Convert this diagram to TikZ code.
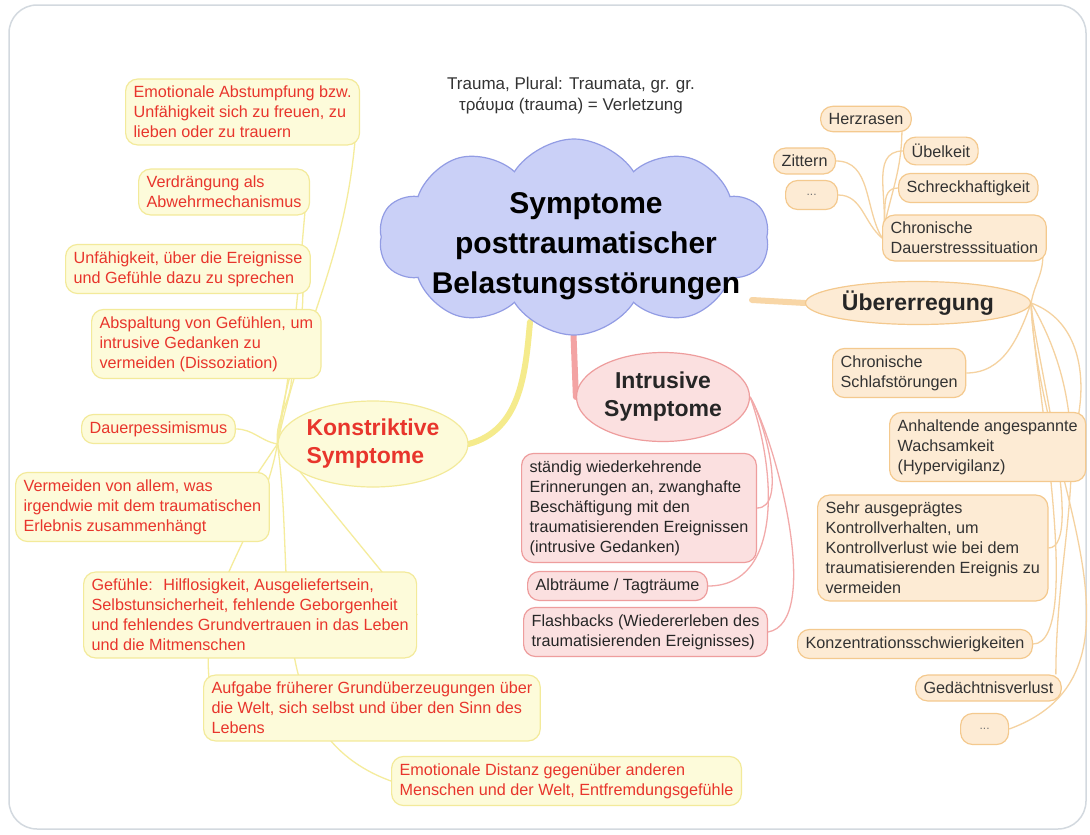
\documentclass[tikz,border=0pt]{standalone}
\usepackage{fontspec}
\setmainfont{Liberation Sans}
\usepackage{tikz}
\usetikzlibrary{shapes,positioning,backgrounds}

\definecolor{frm}{HTML}{D3D9DF}
\definecolor{cloudfill}{HTML}{CAD0F7}
\definecolor{clouddraw}{HTML}{929CE4}
\definecolor{kfill}{HTML}{FDFBDA}
\definecolor{kdraw}{HTML}{F3EA9A}
\definecolor{ktext}{HTML}{E8352C}
\definecolor{kline}{HTML}{F5EC9C}
\definecolor{kthick}{HTML}{F5EB8C}
\definecolor{ifill}{HTML}{FBE0E0}
\definecolor{idraw}{HTML}{EE9D9D}
\definecolor{iline}{HTML}{F2AAAA}
\definecolor{ithick}{HTML}{F3A3A3}
\definecolor{ufill}{HTML}{FDEBD4}
\definecolor{udraw}{HTML}{F4C98E}
\definecolor{uline}{HTML}{F5D2A0}
\definecolor{uthick}{HTML}{F8D6A6}

\begin{document}
\begin{tikzpicture}[x=1pt,y=1pt,
  box/.style={draw, rounded corners=12pt, align=left, line width=1.2pt, inner xsep=8pt, inner ysep=7pt, anchor=west, font=\fontsize{16.2}{20}\selectfont},
  kbox/.style={box, draw=kdraw, fill=kfill, text=ktext},
  ibox/.style={box, draw=idraw, fill=ifill, text=black!85},
  ubox/.style={box, draw=udraw, fill=ufill, text=black!80},
  dotbox/.style={ubox, align=center, font=\fontsize{12}{14}\selectfont, text=black!55},
  topic/.style={ellipse, draw, line width=1.2pt, inner sep=0pt, font=\fontsize{23}{28}\selectfont\bfseries},
  kedge/.style={draw=kline, line width=1.3pt},
  iedge/.style={draw=iline, line width=1.3pt},
  uedge/.style={draw=uline, line width=1.3pt},
  mainedge/.style={line width=6pt, line cap=round}]
\useasboundingbox (0,0) rectangle (1090,-835);

\node[cloud, cloud puffs=10, cloud puff arc=115, draw=clouddraw, fill=cloudfill, line width=1.2pt, minimum width=390pt, minimum height=196pt] (cl) at (574,-237) {};
\node[font=\fontsize{30}{40}\selectfont\bfseries, align=center] (cltxt) at (586,-246) {Symptome\\posttraumatischer\\Belastungsstörungen};
\node[font=\fontsize{17}{21}\selectfont, text=black!80, align=center] (title) at (571,-96) {Trauma, Plural: Traumata, gr. gr.\\τράυμα (trauma) = Verletzung};

\node[topic, draw=kdraw, fill=kfill, text=ktext, align=left, minimum width=190pt, minimum height=86pt] (ks) at (373,-444) {Konstriktive\\Symptome};
\node[topic, draw=idraw, fill=ifill, text=black!85, align=center, minimum width=173pt, minimum height=89pt] (is) at (663,-397) {Intrusive\\Symptome};
\node[topic, draw=udraw, fill=ufill, text=black!85, minimum width=225pt, minimum height=43pt] (ue) at (918,-303) {Übererregung};

\node[kbox] (k1) at (125,-112) {Emotionale Abstumpfung bzw.\\Unfähigkeit sich zu freuen, zu\\lieben oder zu trauern};
\node[kbox] (k2) at (138,-192) {Verdrängung als\\Abwehrmechanismus};
\node[kbox] (k3) at (65,-269) {Unfähigkeit, über die Ereignisse\\und Gefühle dazu zu sprechen};
\node[kbox] (k4) at (91,-344) {Abspaltung von Gefühlen, um\\intrusive Gedanken zu\\vermeiden (Dissoziation)};
\node[kbox] (k5) at (81,-429) {Dauerpessimismus};
\node[kbox] (k6) at (15,-507) {Vermeiden von allem, was\\irgendwie mit dem traumatischen\\Erlebnis zusammenhängt};
\node[kbox] (k7) at (83,-615) {Gefühle: \ Hilflosigkeit, Ausgeliefertsein,\\Selbstunsicherheit, fehlende Geborgenheit\\und fehlendes Grundvertrauen in das Leben\\und die Mitmenschen};
\node[kbox] (k8) at (203,-708) {Aufgabe früherer Grundüberzeugungen über\\die Welt, sich selbst und über den Sinn des\\Lebens};
\node[kbox] (k9) at (391,-781) {Emotionale Distanz gegenüber anderen\\Menschen und der Welt, Entfremdungsgefühle};

\node[ibox] (i1) at (521,-508) {ständig wiederkehrende\\Erinnerungen an, zwanghafte\\Beschäftigung mit den\\traumatisierenden Ereignissen\\(intrusive Gedanken)};
\node[ibox] (i2) at (527,-586) {Albträume / Tagträume};
\node[ibox] (i3) at (523,-632) {Flashbacks (Wiedererleben des\\traumatisierenden Ereignisses)};

\node[ubox] (hz) at (820,-119) {Herzrasen};
\node[ubox] (ub) at (903,-151) {Übelkeit};
\node[ubox] (zi) at (773,-161) {Zittern};
\node[dotbox, minimum width=52pt, minimum height=29pt] (d1) at (785,-195) {...};
\node[ubox] (sh) at (898,-188) {Schreckhaftigkeit};
\node[ubox] (cd) at (882,-238) {Chronische\\Dauerstresssituation};
\node[ubox] (u1) at (832,-373) {Chronische\\Schlafstörungen};
\node[ubox] (u2) at (889,-447) {Anhaltende angespannte\\Wachsamkeit\\(Hypervigilanz)};
\node[ubox] (u3) at (817,-548) {Sehr ausgeprägtes\\Kontrollverhalten, um\\Kontrollverlust wie bei dem\\traumatisierenden Ereignis zu\\vermeiden};
\node[ubox] (u4) at (797,-644) {Konzentrationsschwierigkeiten};
\node[ubox] (u5) at (915,-688) {Gedächtnisverlust};
\node[dotbox, minimum width=48pt, minimum height=31pt] (u6) at (960,-729) {...};

\begin{scope}[on background layer]
\draw[draw=frm, fill=white, line width=1.5pt, rounded corners=28pt] (9,-5) rectangle (1086,-829);
\coordinate (ck) at (530,-322);
\coordinate (ci) at (573,-322);
\coordinate (cu) at (752,-300);
\draw[mainedge, kthick] (ck) to[out=-95,in=15] (ks.east);
\draw[mainedge, ithick] (ci) -- (is.west);
\draw[mainedge, uthick] (cu) -- (ue.west);

\draw[kedge] (ks.west) to[out=78,in=-95] ([xshift=-5pt,yshift=6pt]k1.south east);
\draw[kedge] (ks.west) to[out=80,in=-95] ([xshift=-5pt,yshift=5pt]k2.south east);
\draw[kedge] (ks.west) to[out=85,in=-90] ([xshift=-8pt,yshift=4pt]k3.south east);
\draw[kedge] (ks.west) to[out=95,in=-90] ([xshift=-30pt,yshift=4pt]k4.south east);
\draw[kedge] (ks.west) to[out=170,in=0] (k5.east);
\draw[kedge] (ks.west) -- ([xshift=-14pt,yshift=-4pt]k6.north east);
\draw[kedge] (ks.west) -- (k7.east);
\draw[kedge] (ks.west) to[out=-100,in=95] ([xshift=6pt,yshift=-4pt]k8.north west);
\draw[kedge] (ks.west) to[out=-82,in=160] (k9.west);

\draw[iedge] (is.east) to[out=-60,in=0,looseness=0.7] (i1.east);
\draw[iedge] (is.east) to[out=-70,in=0] (i2.east);
\draw[iedge] (is.east) to[out=-60,in=10,looseness=0.6] (i3.east);

\draw[uedge] (cd.west) to[out=80,in=-90] ([xshift=-10pt,yshift=3pt]hz.south east);
\draw[uedge] (cd.west) to[out=75,in=180] (ub.west);
\draw[uedge] (cd.west) to[out=70,in=180] (sh.west);
\draw[uedge] (cd.west) to[out=120,in=0] (zi.east);
\draw[uedge] (cd.west) to[out=140,in=0] (d1.east);
\draw[uedge] (ue.east) to[out=80,in=-90] ([xshift=-4pt,yshift=6pt]cd.south east);
\draw[uedge] (ue.east) to[out=-110,in=0] (u1.east);
\draw[uedge] (ue.east) to[out=-20,in=80] ([xshift=-8pt,yshift=-4pt]u2.north east);
\draw[uedge] (ue.east) to[out=-88,in=0,looseness=0.4] (u3.east);
\draw[uedge] (ue.east) to[out=-90,in=0,looseness=0.4] (u4.east);
\draw[uedge] (ue.east) to[out=-60,in=90] ([xshift=-6pt]u5.north east);
\draw[uedge] (ue.east) to[out=-88,in=20] (u6.east);
\end{scope}
\end{tikzpicture}
\end{document}
